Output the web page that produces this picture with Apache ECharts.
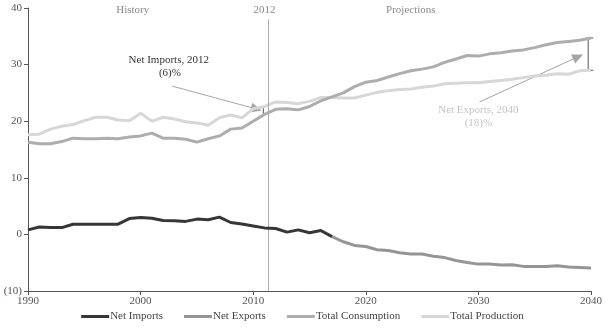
<!DOCTYPE html>
<html>
<head>
<meta charset="utf-8">
<script src="https://cdn.jsdelivr.net/npm/echarts@6/dist/echarts.min.js"></script>
<style>
  html, body { margin: 0; padding: 0; background: #fff; }
  #chart { width: 605px; height: 328px; }
</style>
</head>
<body>
<div id="chart"></div>
<script>
// Oil balance, 1990–2040 (history and projections)
const years = [];
for (let y = 1990; y <= 2040; y++) years.push(y);

const totalConsumption = [
  16.3, 16.0, 16.0, 16.4, 17.0, 16.9, 16.9, 17.0, 16.9, 17.2,
  17.4, 17.9, 17.0, 17.0, 16.8, 16.3, 16.9, 17.4, 18.6, 18.8,
  20.0, 21.2, 22.1, 22.2, 22.0, 22.6, 23.6, 24.3, 25.0, 26.1,
  26.9, 27.2, 27.8, 28.4, 28.9, 29.2, 29.6, 30.4, 31.0, 31.6,
  31.5, 31.9, 32.1, 32.4, 32.6, 33.0, 33.5, 33.9, 34.1, 34.3,
  34.7
];

const totalProduction = [
  17.6, 17.7, 18.6, 19.1, 19.4, 20.1, 20.7, 20.7, 20.2, 20.1,
  21.4, 20.0, 20.7, 20.4, 19.9, 19.7, 19.3, 20.6, 21.1, 20.6,
  22.2, 22.6, 23.4, 23.3, 23.1, 23.5, 24.2, 24.2, 24.1, 24.1,
  24.6, 25.1, 25.4, 25.6, 25.7, 26.0, 26.2, 26.6, 26.7, 26.8,
  26.8, 27.0, 27.2, 27.4, 27.7, 28.0, 28.1, 28.4, 28.3, 28.9,
  29.0
];

// Net imports while positive (to 2017), net exports after the switch
const netImports = [
  0.8, 1.3, 1.2, 1.2, 1.8, 1.8, 1.8, 1.8, 1.8, 2.8,
  3.0, 2.85, 2.45, 2.4, 2.3, 2.7, 2.6, 3.05, 2.1, 1.85,
  1.5, 1.15, 1.05, 0.4, 0.8, 0.3, 0.7, -0.4
];
const netExportsStart = 2017;
const netExports = [
  -0.4, -1.3, -1.95, -2.15, -2.7, -2.85, -3.25, -3.45, -3.45, -3.85,
  -4.1, -4.6, -4.95, -5.25, -5.25, -5.4, -5.35, -5.65, -5.65, -5.65,
  -5.55, -5.75, -5.85, -5.95
];

const yTicks = [-10, 0, 10, 20, 30, 40];
const xTicks = [1990, 2000, 2010, 2020, 2030, 2040];

const seriesNames = ['Net Imports', 'Net Exports', 'Total Consumption', 'Total Production'];
const seriesColors = ['#363636', '#959595', '#adadad', '#d7d7d7'];

const historyEnd = 2011.35;
const FONT = '"Liberation Serif", "DejaVu Serif", serif';

const pairs = (startYear, vals) => vals.map((v, i) => [startYear + i, v]);

const chart = echarts.init(document.getElementById('chart'), null, { renderer: 'canvas' });

const lineSeries = (name, data, color, z) => ({
  name, type: 'line', data,
  showSymbol: false, symbol: 'none', smooth: false,
  lineStyle: { color, width: 3 },
  itemStyle: { color },
  z, animation: false
});

chart.setOption({
  animation: false,
  backgroundColor: '#fff',
  textStyle: { fontFamily: FONT },
  grid: { left: 28, right: 10, top: 8, bottom: 37 },
  xAxis: {
    type: 'value', min: xTicks[0], max: xTicks[xTicks.length - 1], interval: 10,
    axisLine: { onZero: false, lineStyle: { color: '#555', width: 1 } },
    axisTick: { show: true, length: 4, lineStyle: { color: '#555' } },
    axisLabel: { color: '#555', fontSize: 11, fontFamily: FONT, margin: 5,
      formatter: v => String(v) },
    splitLine: { show: false }
  },
  yAxis: {
    type: 'value', min: yTicks[0], max: yTicks[yTicks.length - 1], interval: 10,
    axisLine: { show: true, lineStyle: { color: '#555', width: 1 } },
    axisTick: { show: true, length: 4, lineStyle: { color: '#555' } },
    axisLabel: { color: '#555', fontSize: 11, fontFamily: FONT, margin: 6,
      formatter: v => v < 0 ? '(' + Math.abs(v) + ')' : String(v) },
    splitLine: { show: false }
  },
  legend: {
    bottom: 1, left: 'center',
    icon: 'rect', itemWidth: 28, itemHeight: 3, itemGap: 21,
    textStyle: { color: '#444', fontSize: 11, fontFamily: FONT, padding: [0, 0, 0, -4] },
    data: seriesNames
  },
  series: [
    lineSeries(seriesNames[3], pairs(years[0], totalProduction), seriesColors[3], 2),
    lineSeries(seriesNames[2], pairs(years[0], totalConsumption), seriesColors[2], 3),
    lineSeries(seriesNames[1], pairs(netExportsStart, netExports), seriesColors[1], 4),
    Object.assign(lineSeries(seriesNames[0], pairs(years[0], netImports), seriesColors[0], 5), {
      markLine: {
        silent: true, symbol: ['none', 'none'], animation: false,
        label: { show: false },
        lineStyle: { color: '#ababab', width: 1, type: 'solid' },
        data: [[{ coord: [historyEnd, 38] }, { coord: [historyEnd, yTicks[0]] }]]
      }
    })
  ]
});

// Annotations positioned in data space
const px = (x, y) => chart.convertToPixel({ gridIndex: 0 }, [x, y]);
const idx = y => y - years[0];

const graphics = [];
const addText = (x, y, text, color) => {
  const p = px(x, y);
  graphics.push({
    type: 'text', x: p[0], y: p[1], silent: true,
    style: { text, fill: color, font: '11px ' + FONT, textAlign: 'center', textVerticalAlign: 'middle' }
  });
};
const addBracket = (x, yTop, yBottom, tickYears) => {
  const a = px(x, yTop), b = px(x, yBottom);
  const w = tickYears * (px(1, 0)[0] - px(0, 0)[0]);
  graphics.push({
    type: 'polyline', silent: true,
    shape: { points: [[a[0] + w, a[1]], a, b, [b[0] + w, b[1]]] },
    style: { stroke: '#555', lineWidth: 1, fill: null }
  });
};
const addArrow = (x0, y0, x1, y1) => {
  const a = px(x0, y0), b = px(x1, y1);
  const ang = Math.atan2(b[1] - a[1], b[0] - a[0]);
  const L = 11, W = 5;
  const bx = b[0] - L * Math.cos(ang), by = b[1] - L * Math.sin(ang);
  const nx = -Math.sin(ang) * W, ny = Math.cos(ang) * W;
  graphics.push({
    type: 'line', silent: true,
    shape: { x1: a[0], y1: a[1], x2: bx, y2: by },
    style: { stroke: '#a5a5a5', lineWidth: 1 }
  });
  graphics.push({
    type: 'polygon', silent: true,
    shape: { points: [[b[0], b[1]], [bx + nx, by + ny], [bx - nx, by - ny]] },
    style: { fill: '#a5a5a5', stroke: null }
  });
};

// Section headings
addText(1999.3, 39.6, 'History', '#8a8a8a');
addText(2011.0, 39.6, '2012', '#8a8a8a');
addText(2024.0, 39.6, 'Projections', '#8a8a8a');

// Net imports gap, 2012
addBracket(2010.9, totalProduction[idx(2011)], totalConsumption[idx(2011)], 0.25);
addText(2002.5, 30.8, 'Net Imports, 2012', '#333');
addText(2002.6, 28.5, '(6)%', '#333');
addArrow(2002.8, 26.2, 2010.75, 21.9);

// Net exports gap, 2040
addBracket(2039.75, totalConsumption[idx(2040)], totalProduction[idx(2040)], 0.45);
addText(2030.0, 21.95, 'Net Exports, 2040', '#c4c4c4');
addText(2030.0, 19.7, '(18)%', '#c4c4c4');
addArrow(2030.1, 23.4, 2039.3, 31.8);

chart.setOption({ graphic: graphics });
</script>
</body>
</html>
